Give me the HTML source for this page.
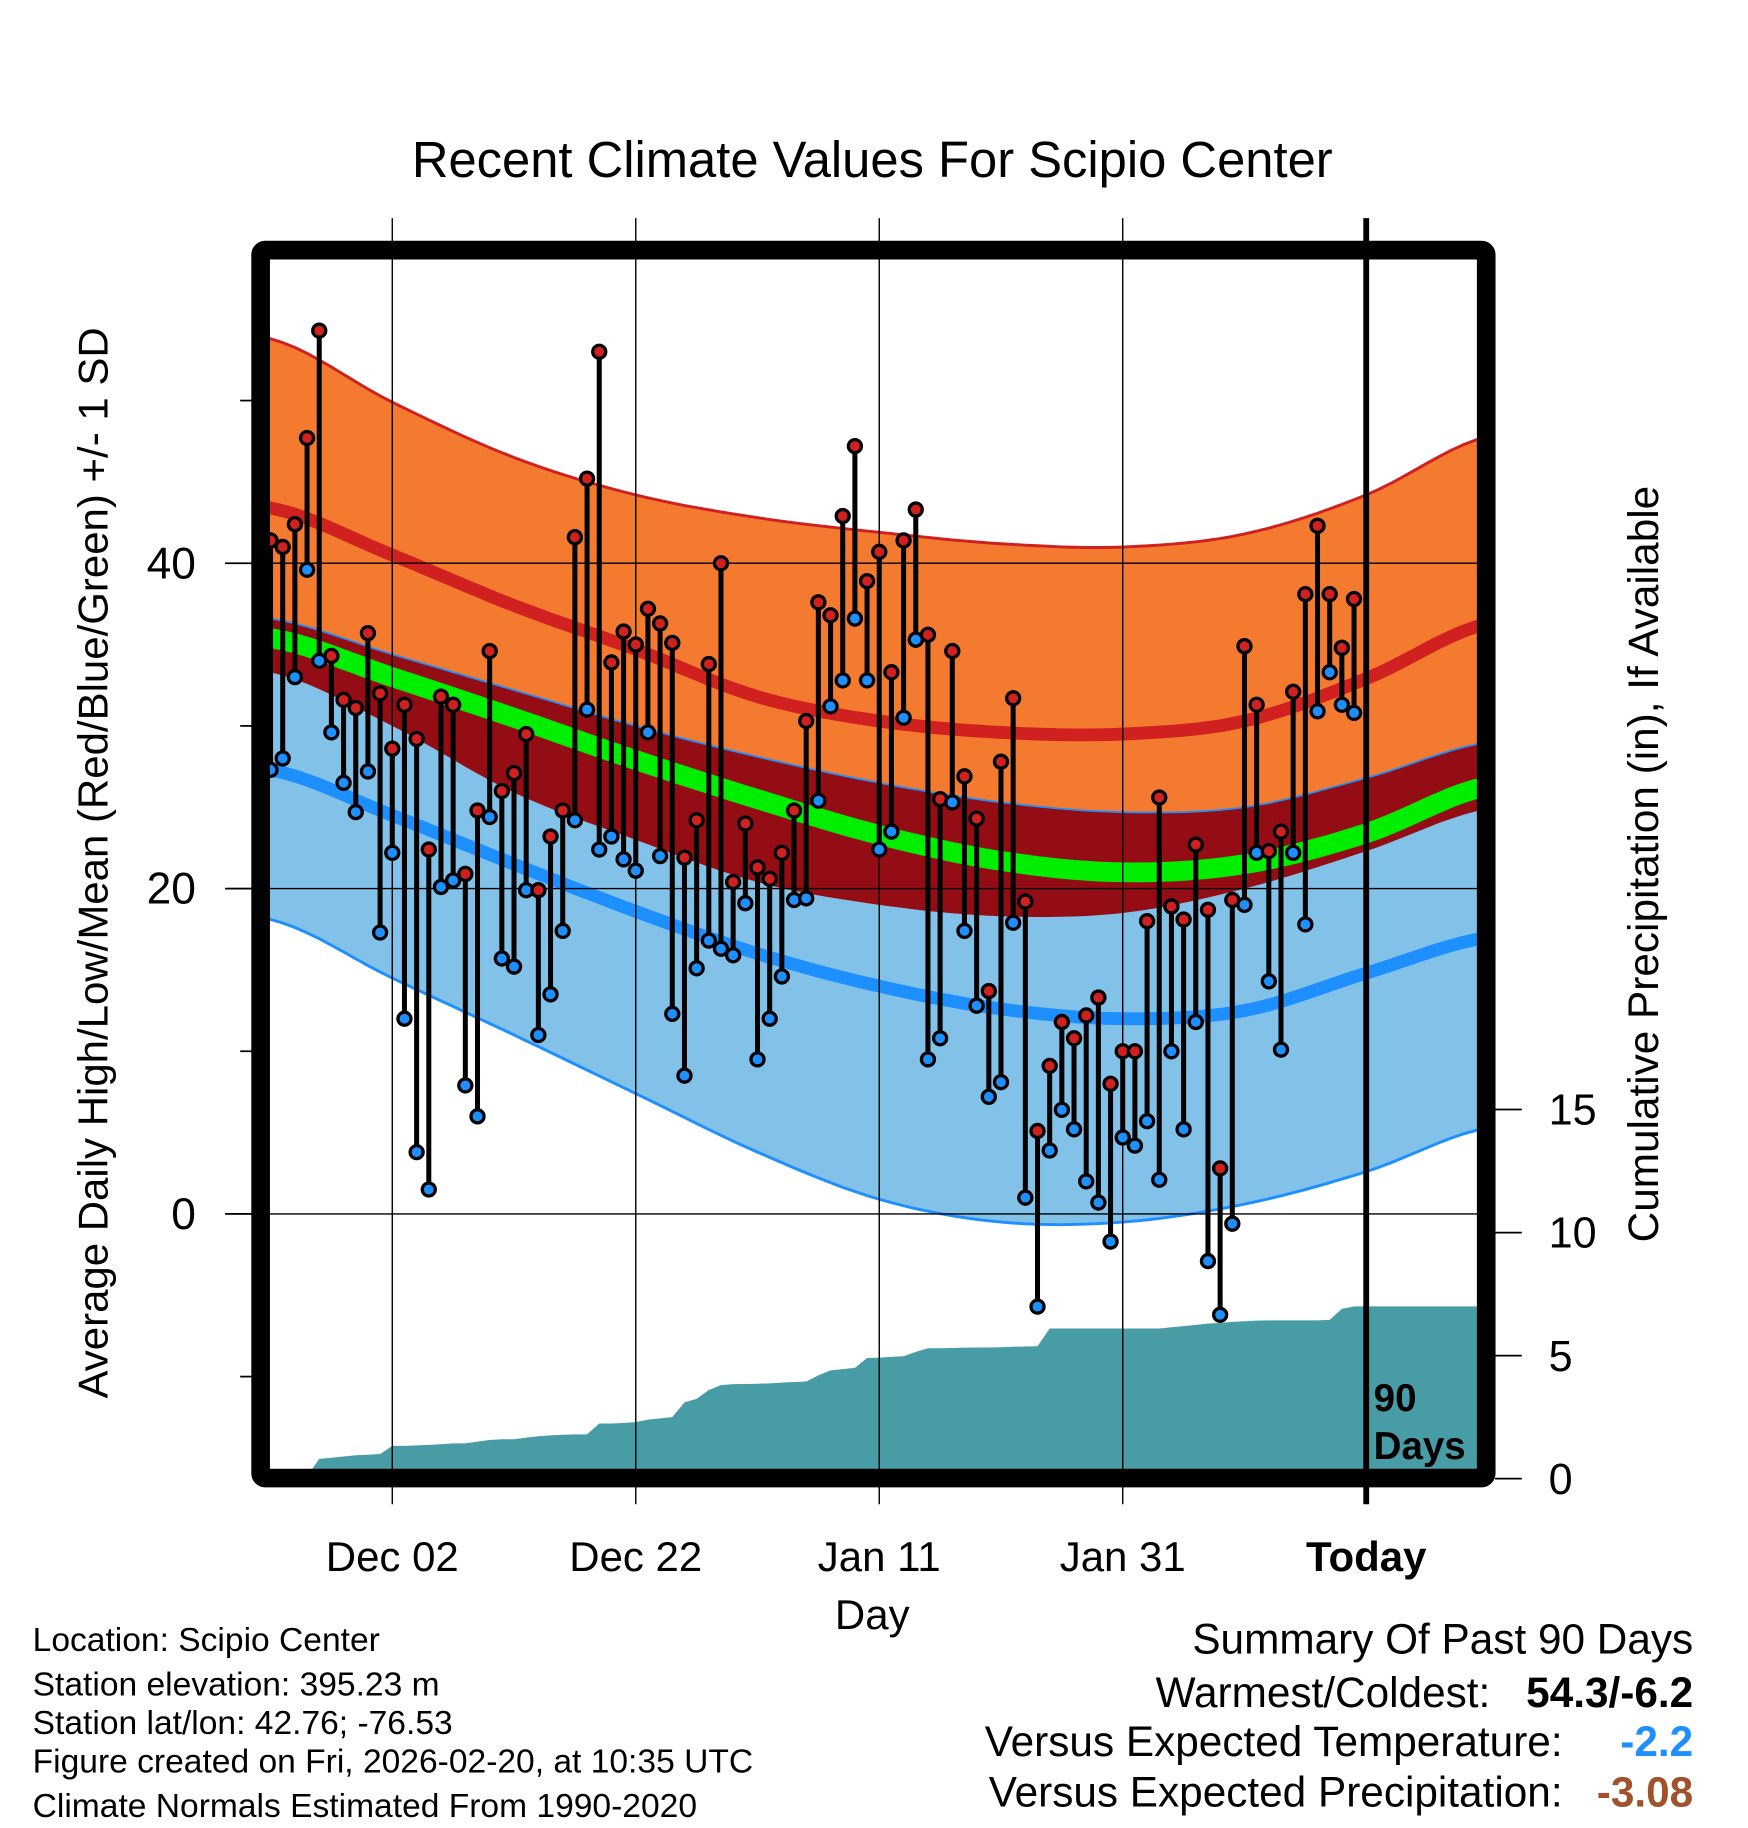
<!DOCTYPE html>
<html><head><meta charset="utf-8"><style>
html,body{margin:0;padding:0;background:#fff;}
svg{display:block;font-family:"Liberation Sans",sans-serif;}
</style></head><body>
<svg id="chart" width="1748" height="1828" viewBox="0 0 1499 1567.6" xmlns="http://www.w3.org/2000/svg">
<defs><clipPath id="plotclip"><rect x="231" y="222" width="1037" height="1038"/></clipPath></defs>
<text x="748" y="152" font-size="43.5" text-anchor="middle">Recent Climate Values For Scipio Center</text>
<g id="plot" clip-path="url(#plotclip)"></g>
<g id="grid"></g>
<g id="marks"></g>
<rect x="223.5" y="214.5" width="1051" height="1053" fill="none" stroke="#000" stroke-width="16" rx="4"/>
<g id="axes"></g>
<text transform="translate(92,740) rotate(-90)" font-size="36" text-anchor="middle">Average Daily High/Low/Mean (Red/Blue/Green) +/- 1 SD</text>
<text transform="translate(1422,741) rotate(-90)" font-size="36.3" text-anchor="middle">Cumulative Precipitation (in), If Available</text>
<text x="748" y="1397" font-size="36" text-anchor="middle">Day</text>
<text x="1178" y="1210" font-size="33" font-weight="bold">90</text>
<text x="1178" y="1251" font-size="33" font-weight="bold">Days</text>
<g font-size="28.8">
<text x="28" y="1416">Location: Scipio Center</text>
<text x="28" y="1454">Station elevation: 395.23 m</text>
<text x="28" y="1487">Station lat/lon: 42.76; -76.53</text>
<text x="28" y="1520">Figure created on Fri, 2026-02-20, at 10:35 UTC</text>
<text x="28" y="1558">Climate Normals Estimated From 1990-2020</text>
</g>
<g font-size="36.3">
<text x="1452" y="1418" text-anchor="end">Summary Of Past 90 Days</text>
<text x="1278" y="1464" text-anchor="end">Warmest/Coldest:</text>
<text x="1452" y="1464" text-anchor="end" font-weight="bold">54.3/-6.2</text>
<text x="1340" y="1506" text-anchor="end">Versus Expected Temperature:</text>
<text x="1452" y="1506" text-anchor="end" font-weight="bold" fill="#1e8fff">-2.2</text>
<text x="1340" y="1549" text-anchor="end">Versus Expected Precipitation:</text>
<text x="1452" y="1549" text-anchor="end" font-weight="bold" fill="#a0522d">-3.08</text>
</g>
</svg>
<script>
// ---- data ----
const normDays = [0,10,20,30,40,50,60,70,80,90,100];
const hiTop  = [53.8,49.9,46.5,44.2,42.8,41.9,41.2,41.0,41.8,44.2,47.8];
const hiMean = [43.4,40.5,37.4,34.7,31.8,30.3,29.6,29.5,30.3,32.9,36.3];
const loTop  = [36.6,34.4,32.2,30.0,28.1,26.5,25.3,24.7,25.0,26.8,29.0];
const meanT  = [35.4,33.0,30.5,27.9,25.5,23.3,21.7,21.0,21.5,23.4,26.3];
const hiBot  = [33.3,30.0,25.9,23.0,20.4,19.0,18.3,18.5,20.0,22.3,24.9];
const loMean = [27.3,24.5,21.5,18.6,16.0,14.0,12.6,12.0,12.5,14.8,17.0];
const loBot  = [18.1,14.5,11.0,7.4,3.8,0.9,-0.5,-0.5,0.6,2.6,5.3];
const highs = [41.4,41.0,42.4,47.7,54.3,34.3,31.6,31.1,35.7,32.0,28.6,31.3,29.2,22.4,31.8,31.3,20.9,24.8,34.6,26.0,
27.1,29.5,19.9,23.2,24.8,41.6,45.2,53.0,33.9,35.8,35.0,37.2,36.3,35.1,21.9,24.2,33.8,40.0,20.4,24.0,
21.3,20.6,22.2,24.8,30.3,37.6,36.8,42.9,47.2,38.9,40.7,33.3,41.4,43.3,35.6,25.5,34.6,26.9,24.3,13.7,
27.8,31.7,19.2,5.1,9.1,11.8,10.8,12.2,13.3,8.0,10.0,10.0,18.0,25.6,18.9,18.1,22.7,18.7,2.8,19.3,
34.9,31.3,22.3,23.5,32.1,38.1,42.3,38.1,34.8,37.8];
const lows = [27.3,28.0,33.0,39.6,34.0,29.6,26.5,24.7,27.2,17.3,22.2,12.0,3.8,1.5,20.1,20.5,7.9,6.0,24.4,15.7,
15.2,19.9,11.0,13.5,17.4,24.2,31.0,22.4,23.2,21.8,21.1,29.6,22.0,12.3,8.5,15.1,16.8,16.3,15.9,19.1,
9.5,12.0,14.6,19.3,19.4,25.4,31.2,32.8,36.6,32.8,22.4,23.5,30.5,35.3,9.5,10.8,25.3,17.4,12.8,7.2,
8.1,17.9,1.0,-5.7,3.9,6.4,5.2,2.0,0.7,-1.7,4.7,4.2,5.7,2.1,10.0,5.2,11.8,-2.9,-6.2,-0.6,
19.0,22.2,14.3,10.1,22.2,17.8,30.9,33.3,31.3,30.8];
const precip = [0,0,0,0.1,0.8,0.85,0.9,0.95,0.97,1.0,1.33,1.33,1.35,1.37,1.4,1.43,1.43,1.5,1.57,1.6,
1.6,1.67,1.72,1.76,1.78,1.8,1.8,2.24,2.24,2.26,2.3,2.4,2.45,2.5,3.1,3.24,3.6,3.8,3.84,3.85,
3.86,3.87,3.9,3.93,3.95,4.2,4.4,4.45,4.5,4.9,4.92,4.95,4.97,5.15,5.3,5.3,5.31,5.32,5.33,5.33,
5.34,5.36,5.37,5.38,6.1,6.1,6.1,6.1,6.1,6.1,6.1,6.1,6.1,6.1,6.15,6.2,6.25,6.3,6.33,6.37,
6.4,6.42,6.43,6.43,6.43,6.43,6.43,6.45,6.9,7.0];
const xTickLabels = ["Dec 02","Dec 22","Jan 11","Jan 31","Today"];
const xTickDays = [10,30,50,70,90];
const yTickLabels = ["0","20","40"];
const yTickValues = [0,20,40];
const yMinorValues = [-10,10,30,50];
const pTickLabels = ["0","5","10","15"];
const pTickValues = [0,5,10,15];

// ---- scales ----
const X = d => 232 + d*10.44;
const Y = t => 1041 - t*13.95;
const P = v => 1268 - v*21.1;
const NS = "http://www.w3.org/2000/svg";
function mk(tag, attrs, parent){const e=document.createElementNS(NS,tag);for(const k in attrs)e.setAttribute(k,attrs[k]);parent.appendChild(e);return e;}
function interp(arr){
  const pts=[];
  for(let d=-1; d<=101; d+=1){
    let i=Math.min(Math.max(Math.floor(d/10),0),normDays.length-2);
    const t=(d-normDays[i])/10;
    const p0=arr[Math.max(i-1,0)],p1=arr[i],p2=arr[i+1],p3=arr[Math.min(i+2,arr.length-1)];
    const v=0.5*((2*p1)+(-p0+p2)*t+(2*p0-5*p1+4*p2-p3)*t*t+(-p0+3*p1-3*p2+p3)*t*t*t);
    pts.push([X(d),Y(v)]);
  }
  return pts;
}
function band(a,b){const A=interp(a),B=interp(b).reverse();return "M"+A.concat(B).map(p=>p[0].toFixed(1)+","+p[1].toFixed(1)).join("L")+"Z";}
function line(a){return "M"+interp(a).map(p=>p[0].toFixed(1)+","+p[1].toFixed(1)).join("L");}

const plot=document.getElementById('plot');
let e;
e=mk('path',{d:band(hiTop,hiBot),fill:'#f47a2f'},plot);


e=mk('path',{d:band(loTop,loBot),fill:'#82c1e8'},plot);


e=mk('path',{d:band(loTop,hiBot),fill:'#940d14'},plot);


e=mk('path',{d:line(hiTop),fill:'none',stroke:'#d02020','stroke-width':2.5},plot);


e=mk('path',{d:line(loTop),fill:'none',stroke:'#1e8fff','stroke-width':1.5},plot);


e=mk('path',{d:line(loBot),fill:'none',stroke:'#1e8fff','stroke-width':2.5},plot);


e=mk('path',{d:line(hiMean),fill:'none',stroke:'#d02020','stroke-width':11},plot);


e=mk('path',{d:line(meanT),fill:'none',stroke:'#00ee00','stroke-width':17},plot);


e=mk('path',{d:line(loMean),fill:'none',stroke:'#1e8fff','stroke-width':11},plot);


let pd="M"+X(0)+",1262";
precip.forEach((v,i)=>{pd+="L"+X(i).toFixed(1)+","+P(v).toFixed(1);});
pd+="L1270,"+P(precip[precip.length-1]).toFixed(1)+"L1270,1262Z";
e=mk('path',{d:pd,fill:'#489ca5'},plot);



const grid=document.getElementById('grid');
xTickDays.forEach((d,i)=>{
  const last=i===xTickDays.length-1;
  e=mk('line',{x1:X(d),x2:X(d),y1:187,y2:1290,stroke:'#000','stroke-width':last?5:1.2},grid);
  
  
});
yTickValues.forEach(v=>{
  e=mk('line',{x1:195,x2:1268,y1:Y(v),y2:Y(v),stroke:'#000','stroke-width':1.2},grid);
  
  
});

const marks=document.getElementById('marks');
highs.forEach((h,i)=>{
  const x=X(i);
  e=mk('line',{x1:x,x2:x,y1:Y(h),y2:Y(lows[i]),stroke:'#000','stroke-width':4.3},marks);
  
  
});
highs.forEach((h,i)=>{
  const x=X(i);
  e=mk('circle',{cx:x,cy:Y(lows[i]),r:5.6,fill:'#1e8fff',stroke:'#000','stroke-width':2.8},marks);
  
  
  e=mk('circle',{cx:x,cy:Y(h),r:5.6,fill:'#d02020',stroke:'#000','stroke-width':2.8},marks);
  
  
});

const axes=document.getElementById('axes');
yTickValues.forEach((v,i)=>{
  e=mk('line',{x1:193,x2:216,y1:Y(v),y2:Y(v),stroke:'#000','stroke-width':1.5},axes);
  
  
  e=mk('text',{x:168,y:Y(v)+13,'font-size':38,'text-anchor':'end'},axes);
  e.textContent=yTickLabels[i];
  
  
});
yMinorValues.forEach(v=>{
  e=mk('line',{x1:206,x2:216,y1:Y(v),y2:Y(v),stroke:'#000','stroke-width':1.5},axes);
  
  
});
pTickValues.forEach((v,i)=>{
  e=mk('line',{x1:1282,x2:1305,y1:P(v),y2:P(v),stroke:'#000','stroke-width':1.5},axes);
  
  
  e=mk('text',{x:1328,y:P(v)+13,'font-size':37},axes);
  e.textContent=pTickLabels[i];
  
  
});
xTickDays.forEach((d,i)=>{
  const last=i===xTickDays.length-1;
  e=mk('text',{x:X(d),y:1347,'font-size':36,'text-anchor':'middle','font-weight':last?'bold':'normal'},axes);
  e.textContent=xTickLabels[i];
  
  
});
</script>
</body></html>
